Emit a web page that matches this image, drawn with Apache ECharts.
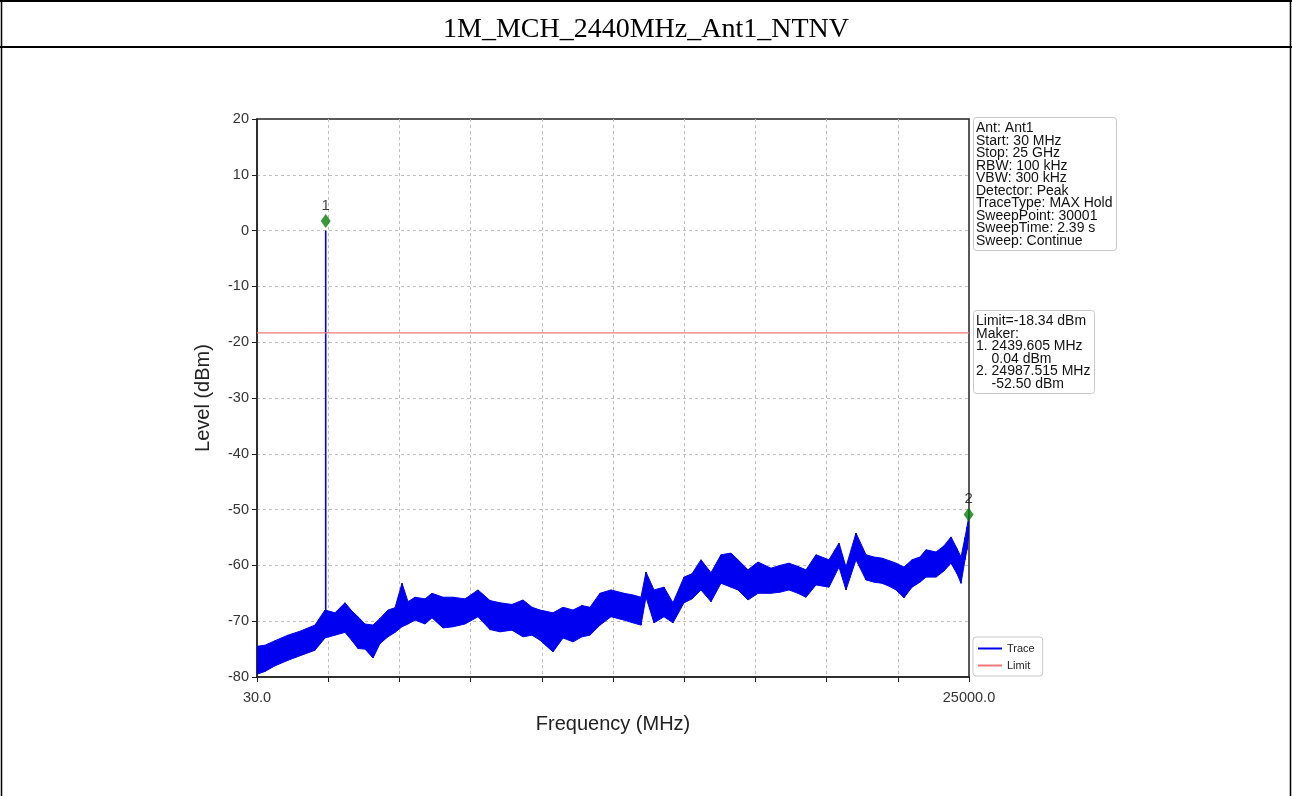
<!DOCTYPE html>
<html>
<head>
<meta charset="utf-8">
<style>
html,body{margin:0;padding:0;background:#fff;}
#chart{width:1292px;height:796px;}
</style>
<script src="https://cdn.jsdelivr.net/npm/echarts@6/dist/echarts.min.js"></script>
</head>
<body>
<div id="chart"></div>
<script>
// ---- data ----
const chartTitle = '1M_MCH_2440MHz_Ant1_NTNV';
const xTicks = [30, 2527, 5024, 7521, 10018, 12515, 15012, 17509, 20006, 22503, 25000];
const xTickLabels = [30, 25000];
const freqs = [30, 311, 661, 1117, 1538, 2064, 2415, 2766, 3116, 3362, 3572, 3818, 4098, 4344, 4624, 4870, 5115, 5326, 5572, 5922, 6167, 6553, 6904, 7325, 7780, 8201, 8552, 8973, 9359, 9674, 9955, 10411, 10762, 11112, 11428, 11708, 12059, 12445, 12901, 13216, 13497, 13672, 13953, 14303, 14619, 15005, 15285, 15601, 15952, 16302, 16653, 16899, 17249, 17600, 18056, 18372, 18687, 19003, 19284, 19634, 20090, 20441, 20686, 21037, 21388, 21668, 21949, 22229, 22440, 22721, 23001, 23282, 23492, 23843, 24123, 24369, 24580, 24720, 24860, 24930, 25000];
const traceTop = [-74.5, -74.3, -73.5, -72.5, -71.8, -70.7, -68, -68.5, -66.7, -68.2, -69.2, -70.5, -70.7, -69.5, -68, -67.6, -63.2, -66.5, -65.7, -66, -65, -65.7, -65.7, -66, -64.4, -66.3, -66.7, -67, -66.2, -67.5, -68, -68.5, -67.5, -68, -67.2, -67.5, -65, -64.4, -65, -65.3, -65.7, -61.2, -64.4, -63.9, -66.7, -62.1, -61.5, -59, -61.3, -58.1, -57.8, -59, -60.8, -59.4, -60.5, -60, -59.6, -60.2, -60.8, -58.1, -59, -56, -60.3, -54.2, -58.1, -58.5, -58.7, -59.2, -59.6, -60.3, -59, -58.5, -57.2, -57.6, -56.5, -54.9, -57, -58.5, -55, -53.1, -51];
const traceBottom = [-79.5, -79, -78, -77, -76.2, -75.2, -73, -72.5, -72, -73.5, -74.9, -75, -76.6, -74, -72.8, -72, -71, -70.5, -69.8, -70.5, -69.4, -71.2, -71, -70.5, -69.2, -71.5, -71.9, -71.6, -72.8, -72.5, -73.4, -75.5, -73, -73.7, -72.8, -72.5, -70.7, -69.2, -69.8, -70.3, -70.7, -65.7, -70.3, -69.2, -70.3, -66.7, -66, -64.4, -66.5, -63.2, -63.9, -64.4, -66.2, -65, -65, -64.8, -64.4, -65, -65.7, -63.5, -63.9, -60.3, -64.4, -59, -62.6, -63, -63.2, -63.8, -64.4, -65.8, -63.9, -63, -62.1, -62.1, -61, -59.6, -61.5, -63.2, -59, -57.2, -54];
const spikeFreq = 2439.605;
const spikeLevels = [-71, 0.04];
const limitLevel = -18.34;
const markerFreqs = [2439.605, 24987.515];
const markerLevels = [1.7, -50.9];
const markerNames = ['1', '2'];
const infoLines = ['Ant: Ant1', 'Start: 30 MHz', 'Stop: 25 GHz', 'RBW: 100 kHz', 'VBW: 300 kHz', 'Detector: Peak', 'TraceType: MAX Hold', 'SweepPoint: 30001', 'SweepTime: 2.39 s', 'Sweep: Continue'];
const limitLines = ['Limit=-18.34 dBm', 'Maker:', '1. 2439.605 MHz', '    0.04 dBm', '2. 24987.515 MHz', '    -52.50 dBm'];

// ---- chart ----
const BLUE = '#0000f0';
const FONT = 'Liberation Sans, Arial, sans-serif';
const chart = echarts.init(document.getElementById('chart'));
const band = freqs.map((f, i) => [f, traceTop[i], traceBottom[i]]);
const boxText = {fontFamily: FONT, fontSize: 14, lineHeight: 12.5, fontWeight: 'normal', color: '#111'};

const option = {
  animation: false,
  backgroundColor: '#fff',
  title: [
    {text: chartTitle, left: 'center', top: 11, textStyle: {fontFamily: 'Liberation Serif, Times New Roman, serif', fontSize: 28, fontWeight: 'normal', color: '#000'}},
    {text: infoLines.join('\n'), left: 973, top: 118, padding: [4, 4, 3, 3], backgroundColor: '#fff', borderColor: '#c8c8c8', borderWidth: 1, borderRadius: 3, textStyle: boxText},
    {text: limitLines.join('\n'), left: 973, top: 311, padding: [4, 4, 3, 3], backgroundColor: '#fff', borderColor: '#c8c8c8', borderWidth: 1, borderRadius: 3, textStyle: boxText}
  ],
  legend: {
    orient: 'vertical', left: 973, top: 637, padding: [6, 8, 5, 5], itemGap: 6,
    itemWidth: 24, itemHeight: 2, backgroundColor: '#fff', borderColor: '#c8c8c8', borderWidth: 1, borderRadius: 3,
    textStyle: {fontFamily: FONT, fontSize: 11, color: '#222'},
    data: [{name: 'Trace', icon: 'rect'}, {name: 'Limit', icon: 'rect'}]
  },
  grid: {left: 257, top: 119, width: 712, height: 558, show: true, borderColor: '#222', borderWidth: 1.5, backgroundColor: 'transparent'},
  xAxis: {
    type: 'value', min: 30, max: 25000,
    name: 'Frequency (MHz)', nameLocation: 'middle', nameGap: 37,
    nameTextStyle: {fontFamily: FONT, fontSize: 20, color: '#222'},
    axisLine: {show: true, onZero: false, lineStyle: {color: '#222', width: 1.5}},
    axisTick: {show: true, length: 5, lineStyle: {color: '#222'}, customValues: xTicks},
    axisLabel: {customValues: xTickLabels, formatter: v => v.toFixed(1), fontFamily: FONT, fontSize: 14.5, color: '#333', margin: 13},
    splitLine: {show: true, showMinLine: false, showMaxLine: false, lineStyle: {color: '#c0c0c0', type: [3, 3], width: 1}}
  },
  yAxis: {
    type: 'value', min: -80, max: 20, interval: 10,
    name: 'Level (dBm)', nameLocation: 'middle', nameGap: 44,
    nameTextStyle: {fontFamily: FONT, fontSize: 20, color: '#222'},
    axisLine: {show: true, onZero: false, lineStyle: {color: '#222', width: 1.5}},
    axisTick: {show: true, length: 5, lineStyle: {color: '#222'}},
    axisLabel: {fontFamily: FONT, fontSize: 14.5, color: '#333', margin: 8},
    splitLine: {show: true, showMinLine: false, showMaxLine: false, lineStyle: {color: '#c0c0c0', type: [3, 3], width: 1}}
  },
  series: [
    {
      name: 'Trace', type: 'custom', data: band, clip: true, itemStyle: {color: BLUE},
      encode: {x: 0, y: [1, 2]},
      renderItem: function (params, api) {
        const i = params.dataIndex;
        if (i >= freqs.length - 1) return null;
        const p1 = api.coord([api.value(0), api.value(1)]);
        const p2 = api.coord([freqs[i + 1], traceTop[i + 1]]);
        const p3 = api.coord([freqs[i + 1], traceBottom[i + 1]]);
        const p4 = api.coord([api.value(0), api.value(2)]);
        return {type: 'polygon', shape: {points: [p1, p2, p3, p4]}, style: {fill: BLUE, stroke: BLUE, lineWidth: 1}};
      }
    },
    {
      name: 'Trace', type: 'line', symbol: 'none', lineStyle: {color: BLUE, width: 1.6}, itemStyle: {color: BLUE},
      data: spikeLevels.map(v => [spikeFreq, v])
    },
    {
      name: 'Limit', type: 'line', symbol: 'none', lineStyle: {color: '#f07878', width: 1.3}, itemStyle: {color: '#f07878'},
      data: [[30, limitLevel], [25000, limitLevel]]
    },
    {
      name: 'Marker', type: 'scatter', symbol: 'diamond', symbolSize: [10, 14], clip: false,
      itemStyle: {color: '#0a7d0a'},
      label: {show: true, position: 'top', distance: 1, formatter: p => markerNames[p.dataIndex], fontFamily: FONT, fontSize: 15, color: '#111'},
      data: markerFreqs.map((f, i) => [f, markerLevels[i]])
    }
  ],
  graphic: [
    {type: 'line', shape: {x1: 0, y1: 1, x2: 1292, y2: 1}, style: {stroke: '#000', lineWidth: 2}, silent: true},
    {type: 'line', shape: {x1: 0, y1: 47, x2: 1292, y2: 47}, style: {stroke: '#000', lineWidth: 2}, silent: true},
    {type: 'line', shape: {x1: 1.5, y1: 0, x2: 1.5, y2: 796}, style: {stroke: '#000', lineWidth: 1.5}, silent: true},
    {type: 'line', shape: {x1: 1290.5, y1: 0, x2: 1290.5, y2: 796}, style: {stroke: '#000', lineWidth: 1.5}, silent: true}
  ]
};
chart.setOption(option);
</script>
</body>
</html>
